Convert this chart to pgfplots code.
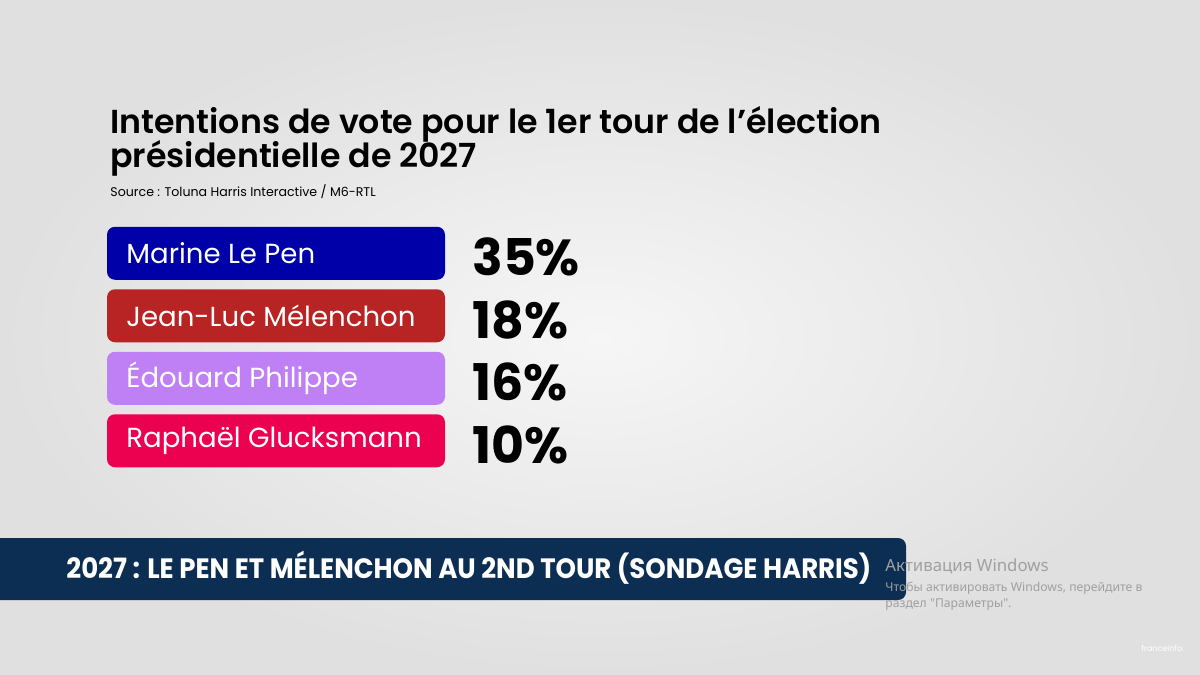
\documentclass[border=0pt]{standalone}
\usepackage{fontspec}
\usepackage{pgfplots}
\pgfplotsset{compat=1.18}
\setmainfont{Poppins}
\newfontfamily\titlefont{Poppins SemiBold}
\newfontfamily\wfont{Noto Sans}
\newfontfamily\bannerfont[FakeStretch=0.93]{Poppins}
\definecolor{lepen}{RGB}{0,0,168}
\definecolor{melenchon}{RGB}{184,36,36}
\definecolor{philippe}{RGB}{190,128,244}
\definecolor{glucksmann}{RGB}{236,0,80}
\definecolor{bannercol}{RGB}{11,46,82}
\begin{document}
\begin{tikzpicture}
\useasboundingbox (0,0) rectangle (600pt,-337.5pt);
\begin{scope}[x=0.5pt,y=-0.5pt]
\shade[inner color={rgb,255:red,246;green,246;blue,246}, outer color={rgb,255:red,224;green,224;blue,224}] (0,0) rectangle (1200,675);
% titles
\node[anchor=base west, inner sep=0pt, font=\titlefont\fontsize{16.6}{18}\selectfont] at (110,133) {Intentions de vote pour le 1er tour de l’élection};
\node[anchor=base west, inner sep=0pt, font=\titlefont\fontsize{16.6}{18}\selectfont] at (110,167) {présidentielle de 2027};
\node[anchor=base west, inner sep=0pt, font=\fontsize{6.3}{7}\selectfont] at (110,196) {Source : Toluna Harris Interactive / M6-RTL};
\end{scope}
\begin{axis}[
  at={(53.5pt,-111pt)}, anchor=north west,
  scale only axis, width=169pt, height=125pt,
  xmin=0, xmax=1, ymin=-0.5, ymax=3.5, y dir=reverse,
  axis line style={draw=none}, xtick=\empty,
  ytick={0,1,2,3},
  yticklabels={Marine Le Pen, Jean-Luc Mélenchon, Édouard Philippe, Raphaël Glucksmann},
  major tick length=0pt,
  yticklabel style={anchor=west, inner sep=0pt, xshift=9.5pt, text=white, font=\fontsize{13.8}{15}\selectfont},
  axis on top, clip=false,
  xbar, bar width=26.5pt, bar shift=0pt,
  point meta=explicit,
  /pgf/number format/assume math mode=true,
  nodes near coords={\pgfmathprintnumber{\pgfplotspointmeta}\%},
  nodes near coords style={anchor=west, inner sep=0pt, xshift=13.5pt, yshift=-2pt, text=black, font=\fontsize{25.3}{27}\selectfont\bfseries},
]
\addplot[fill=lepen, draw=none, rounded corners=4pt] coordinates {(1,0) [35]};
\addplot[fill=melenchon, draw=none, rounded corners=4pt] coordinates {(1,1) [18]};
\addplot[fill=philippe, draw=none, rounded corners=4pt] coordinates {(1,2) [16]};
\addplot[fill=glucksmann, draw=none, rounded corners=4pt] coordinates {(1,3) [10]};
\end{axis}
\begin{scope}[x=0.5pt,y=-0.5pt]
% banner
\fill[bannercol] (0,600) -- (0,538) [rounded corners=4pt] -- (906,538) -- (906,600) [sharp corners] -- cycle;
\node[anchor=base west, inner sep=0pt, text=white, font=\bannerfont\fontsize{14}{15}\selectfont\bfseries] at (66,578) {2027 : LE PEN ET MÉLENCHON AU 2ND TOUR (SONDAGE HARRIS)};
% watermark
\node[anchor=base west, inner sep=0pt, text depth=0pt, text={rgb,255:red,160;green,160;blue,160}, font=\wfont\fontsize{8.4}{9}\selectfont] at (885,571) {Активация Windows};
\node[anchor=base west, inner sep=0pt, text depth=0pt, text={rgb,255:red,160;green,160;blue,160}, font=\wfont\fontsize{6.1}{7}\selectfont] at (885,591) {Чтобы активировать Windows, перейдите в};
\node[anchor=base west, inner sep=0pt, text={rgb,255:red,160;green,160;blue,160}, font=\wfont\fontsize{6.1}{7}\selectfont] at (885,607) {раздел "Параметры".};
\node[anchor=base west, inner sep=0pt, text=white, font=\fontsize{4}{5}\selectfont] at (1141,651) {franceinfo:};
\end{scope}
\end{tikzpicture}
\end{document}
